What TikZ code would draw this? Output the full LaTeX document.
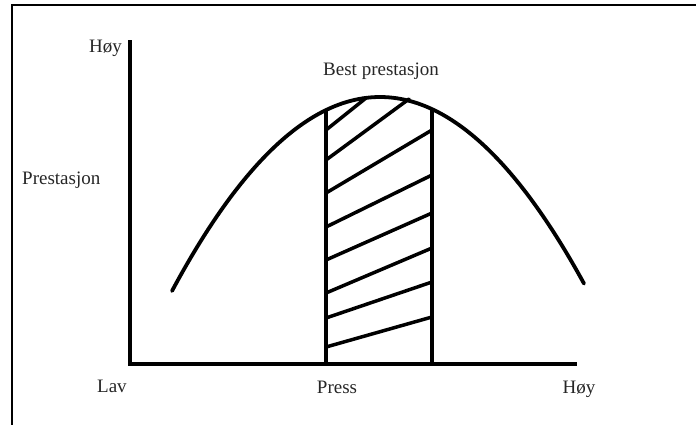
\documentclass[tikz,border=0pt]{standalone}
\usepackage{fontspec}
\setmainfont{Liberation Serif}
\begin{document}
\begin{tikzpicture}[x=1pt,y=-1pt,
  lbl/.style={inner sep=0pt,font=\fontsize{19}{22}\selectfont,text=black!85},
  axis/.style={line width=3.4pt},
  thick line/.style={line width=3.8pt},
  hatch/.style={line width=3.5pt,line cap=round}]
\useasboundingbox (0,0) rectangle (696,424);
% frame (cut off on right and bottom)
\draw[line width=1.8pt] (12,430) -- (12,5) -- (700,5);
% axes
\coordinate (ytop) at (130,40);
\coordinate (origin) at (130,364);
\coordinate (xend) at (577,364);
\draw[axis] (ytop) -- (origin) -- (xend);
% bell curve
\draw[thick line,line cap=round] plot[domain=172:584,samples=120,smooth] (\x,{97+44.84*((\x-380)/100)^2});
% band
\coordinate (lb) at (326,364);
\coordinate (lt) at (326,110);
\coordinate (rb) at (432,364);
\coordinate (rt) at (432,109);
\draw[axis] (lb) -- (lt);
\draw[axis] (rb) -- (rt);
% hatching
\foreach \a/\b/\c/\d in {326/130/366/98, 326/160/409/99, 326/193/432/130, 326/227/432/175,
  326/260/432/213, 326/293/432/248, 326/318/432/282, 326/347/432/317}
  \draw[hatch] (\a,\b) -- (\c,\d);
% labels
\node[lbl,anchor=base east] (hoyY) at (122,52) {Høy};
\node[lbl,anchor=base west] (prest) at (22,184) {Prestasjon};
\node[lbl,anchor=base] (best) at (381,75) {Best prestasjon};
\node[lbl,anchor=base west] (lav) at (97,392) {Lav};
\node[lbl,anchor=base] (press) at (337,393) {Press};
\node[lbl,anchor=base] (hoyX) at (579,393) {Høy};
\end{tikzpicture}
\end{document}
